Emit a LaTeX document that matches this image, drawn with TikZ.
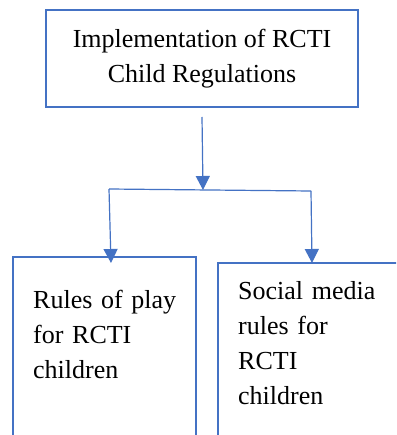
\documentclass[tikz,border=0pt]{standalone}
\usepackage{fontspec}
\setmainfont{Liberation Serif}
\usetikzlibrary{arrows.meta,calc}
\definecolor{wblue}{HTML}{4472C4}
\begin{document}
\begin{tikzpicture}[x=1pt,y=-1pt,
  box/.style={draw=wblue,line width=2pt,inner sep=0pt},
  lbl/.style={font=\fontsize{26}{35}\selectfont,inner sep=0pt},
  arr/.style={draw=wblue,line width=1.2pt,-{Triangle[length=14pt,width=14pt]}},
  ln/.style={draw=wblue,line width=1.2pt}]
\path[use as bounding box,clip] (0,0) rectangle (396,435);
\fill[white] (0,0) rectangle (396,435);
\node[box,lbl,align=center,minimum width=312pt,minimum height=97pt] (top) at (202,58.5)
  {Implementation of RCTI\\Child Regulations};
\node[box,minimum width=183pt,minimum height=220pt,anchor=north west] (L) at (12,256) {};
\node[box,minimum width=220pt,minimum height=220pt,anchor=north west] (R) at (217,262) {};
\node[lbl,text width=160pt,align=left,anchor=base west] (Lt) at (33,308)
  {Rules of play\\for RCTI\\children};
\node[lbl,text width=160pt,align=left,anchor=base west] (Rt) at (238,299)
  {Social media\\rules for\\RCTI\\children};
\coordinate (s) at (202,117);
\coordinate (j) at (203,190);
\coordinate (hl) at (109,189);
\coordinate (hr) at (311,191);
\coordinate (lt) at (111,263);
\coordinate (rt) at (312,263);
\draw[arr] (s) -- (j);
\draw[ln] (hl) -- (hr);
\draw[arr] (hl) -- (lt);
\draw[arr] (hr) -- (rt);
\end{tikzpicture}
\end{document}
